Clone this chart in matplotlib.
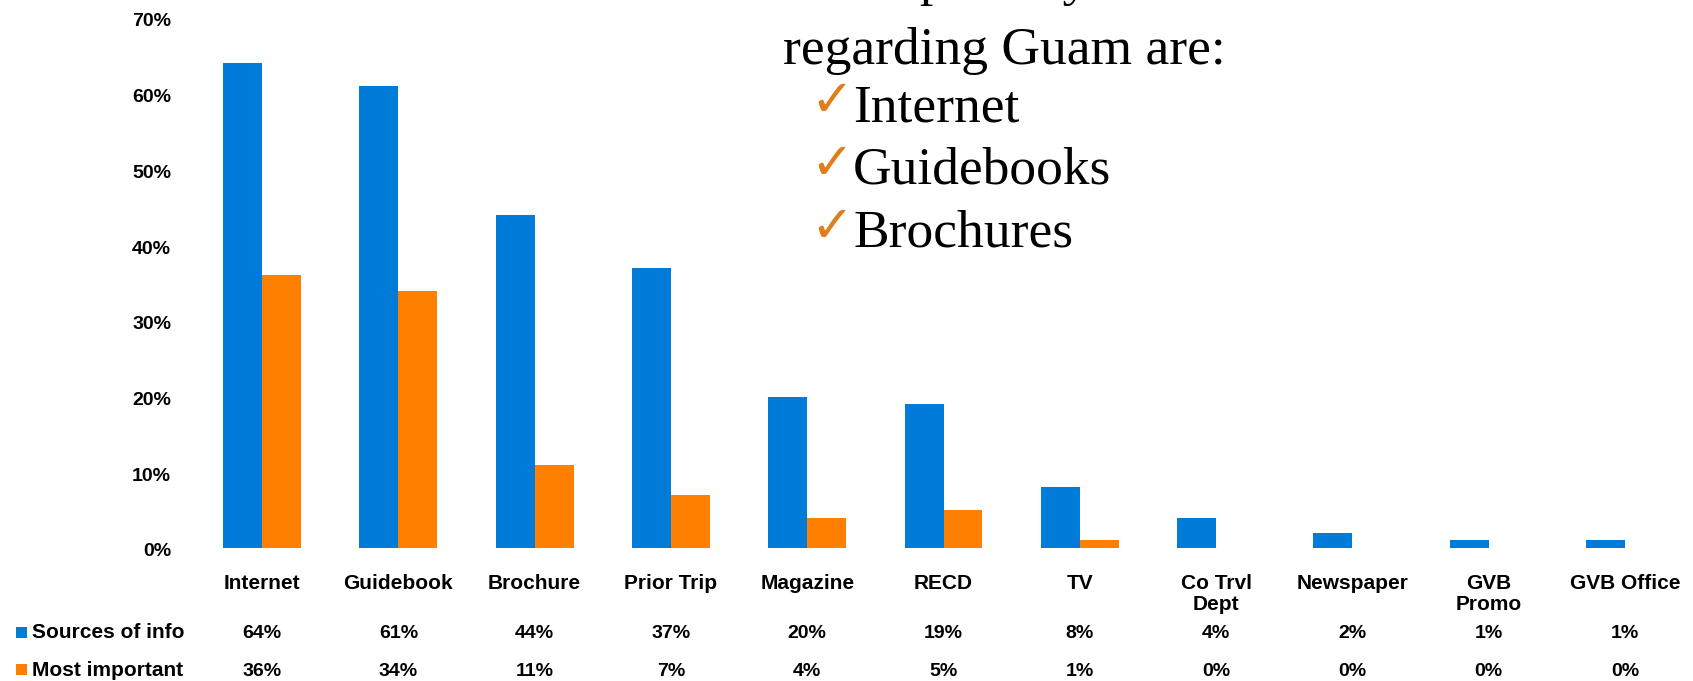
import matplotlib
matplotlib.use("Agg")
import matplotlib.pyplot as plt
from matplotlib.transforms import blended_transform_factory, ScaledTranslation
import numpy as np

categories = ["Internet", "Guidebook", "Brochure", "Prior Trip", "Magazine", "RECD",
              "TV", "Co Trvl\nDept", "Newspaper", "GVB\nPromo", "GVB Office"]
sources_of_info = [64, 61, 44, 37, 20, 19, 8, 4, 2, 1, 1]
most_important = [36, 34, 11, 7, 4, 5, 1, 0, 0, 0, 0]
series_names = ["Sources of info", "Most important"]
yticks = [0, 10, 20, 30, 40, 50, 60, 70]
bullets = ["Internet", "Guidebooks", "Brochures"]

BLUE = "#007CD8"
ORANGE = "#FF7F00"
CHECK = "#E07E1C"

W, H = 1693, 681
fig = plt.figure(figsize=(W / 100, H / 100), dpi=100)
ax = fig.add_axes([194 / W, 1 - 548 / H, 1 - 194 / W, (548 - 18) / H])

x = np.arange(len(categories))
bw = 0.286
ax.bar(x - bw / 2, sources_of_info, width=bw, color=BLUE, linewidth=0)
ax.bar(x + bw / 2, most_important, width=bw, color=ORANGE, linewidth=0)
ax.set_xlim(-0.5, len(categories) - 0.5)
ax.set_ylim(0, 70)
ax.set_yticks(yticks)
ax.set_yticklabels([f"{v}%" for v in yticks], fontsize=14, fontweight="bold",
                   family="Liberation Sans")
ax.tick_params(axis="y", length=0, pad=16.5)
offset = ScaledTranslation(0, -2 / 100, fig.dpi_scale_trans)
for lab in ax.get_yticklabels():
    lab.set_transform(lab.get_transform() + offset)
ax.set_xticks([])
for s in ax.spines.values():
    s.set_visible(False)

tr = blended_transform_factory(ax.transData, fig.transFigure)
def fy(py):
    return 1 - py / H

for i, c in enumerate(categories):
    ax.text(i, fy(574), c, transform=tr, ha="center", va="top", fontsize=15,
            fontweight="bold", family="Liberation Sans", linespacing=1.15, clip_on=False)
    ax.text(i, fy(634), f"{sources_of_info[i]}%", transform=tr, ha="center", va="center",
            fontsize=14, fontweight="bold", family="Liberation Sans", clip_on=False)
    ax.text(i, fy(672), f"{most_important[i]}%", transform=tr, ha="center", va="center",
            fontsize=14, fontweight="bold", family="Liberation Sans", clip_on=False)

# row legends
for py, name, col in [(633, series_names[0], BLUE), (670, series_names[1], ORANGE)]:
    fig.patches.append(plt.Rectangle((16 / W, fy(py - 6) - 11 / H), 11 / W, 11 / H,
                                     transform=fig.transFigure, color=col, linewidth=0))
    fig.text(32 / W, fy(py), name, ha="left", va="center", fontsize=15,
             fontweight="bold", family="Liberation Sans")

# text overlay (first line is cut off by the top edge, as in the original slide)
fig.text(783 / W, fy(-5), "The 3 primary sources", ha="left", va="baseline",
         fontsize=38.5, family="Liberation Serif")
fig.text(783 / W, fy(64), "regarding Guam are:", ha="left", va="baseline",
         fontsize=38.5, family="Liberation Serif")
for k, b in enumerate(bullets):
    py = 121 + 63 * k
    fig.text(810 / W, fy(py - 5), "\u2713", ha="left", va="baseline", fontsize=37,
             fontweight="bold", color=CHECK, family="DejaVu Sans")
    fig.text(853 / W, fy(py), b, ha="left", va="baseline", fontsize=38.5,
             family="Liberation Serif")

fig.savefig("out.png", dpi=100)
